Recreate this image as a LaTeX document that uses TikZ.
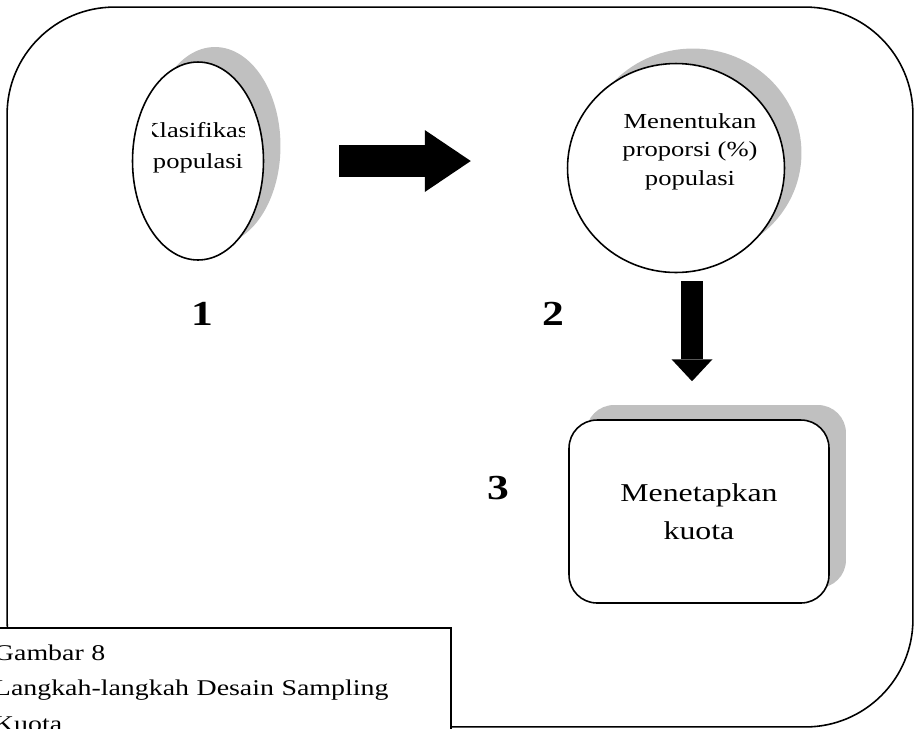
\documentclass[tikz,border=0pt]{standalone}
\usepackage{fontspec}
\setmainfont{Liberation Serif}[FakeStretch=1.24]
\usetikzlibrary{shapes.geometric,shadows,calc,arrows.meta}
\definecolor{shadowgrey}{RGB}{192,192,192}

\begin{document}
\begin{tikzpicture}[x=0.02cm,y=-0.02cm]
    % Define styles
    \tikzstyle{outline} = [draw=black, line width=0.9pt]
    \tikzstyle{grey shadow} = [drop shadow={shadow xshift=0.34cm, shadow yshift=0.3cm, fill=shadowgrey, opacity=1}]
    \tikzstyle{oval} = [ellipse, outline, fill=white, grey shadow, inner sep=0pt]
    \tikzstyle{stepbox} = [rectangle, rounded corners=0.56cm, outline, fill=white, grey shadow, align=center]
    \tikzstyle{num} = [inner sep=0pt, font=\fontsize{20}{24}\selectfont\bfseries]
    \tikzstyle{wide arrow} = [line width=0.64cm, -{Triangle[length=0.92cm, width=1.24cm, line width=0pt]}]
    \tikzstyle{narrow arrow} = [line width=0.44cm, -{Triangle[length=0.44cm, width=0.82cm, line width=0pt]}]

    \useasboundingbox (0,0) rectangle (915,728);
    \clip (0,0) rectangle (915,728);

    % Frame
    \node (frame) [outline, rounded corners=2.15cm, minimum width=18.12cm, minimum height=14.4cm] at (460,367) {};

    % Nodes
    \node (klas) [oval, minimum width=2.62cm, minimum height=3.96cm] at (198,161) {};
    \begin{scope}
        \clip ($(klas.center)+(-46,-100)$) rectangle ($(klas.center)+(46,100)$);
        \node (klastext) [align=center, inner sep=0pt, font=\fontsize{12.2}{17.6}\selectfont] at (198,148) {Klasifikasi\\populasi};
    \end{scope}

    \node (ment) [oval, minimum width=4.34cm, minimum height=4.18cm] at (676,168) {};
    \node (menttext) [align=center, inner sep=0pt, font=\fontsize{12.2}{16.2}\selectfont] at (690,151.5) {Menentukan\\proporsi (\%)\\populasi};

    \node (kuota) [stepbox, minimum width=5.2cm, minimum height=3.66cm, font=\fontsize{14.6}{21.5}\selectfont] at (699,511.5) {Menetapkan\\kuota};

    \node (one) [num] at (202,314) {1};
    \node (two) [num] at (553,314) {2};
    \node (three) [num] at (498,488) {3};

    % Arrows
    \draw [wide arrow, shorten <=1.5cm, shorten >=1.92cm] (klas.east) -- (klas.east -| ment.west);
    \draw [narrow arrow, shorten <=0.16cm, shorten >=0.76cm] ($(ment.south)+(16,0)$) -- ($(ment.south |- kuota.north)+(16,0)$);

    % Caption
    \node (caption) [outline, fill=white, anchor=north west, outer sep=0pt, text width=8.66cm, align=left, inner xsep=0.48cm, inner ysep=0.33cm, font=\fontsize{12.8}{20.4}\selectfont] at (-30,628) {Gambar 8\\Langkah-langkah Desain Sampling\\Kuota};
\end{tikzpicture}
\end{document}
